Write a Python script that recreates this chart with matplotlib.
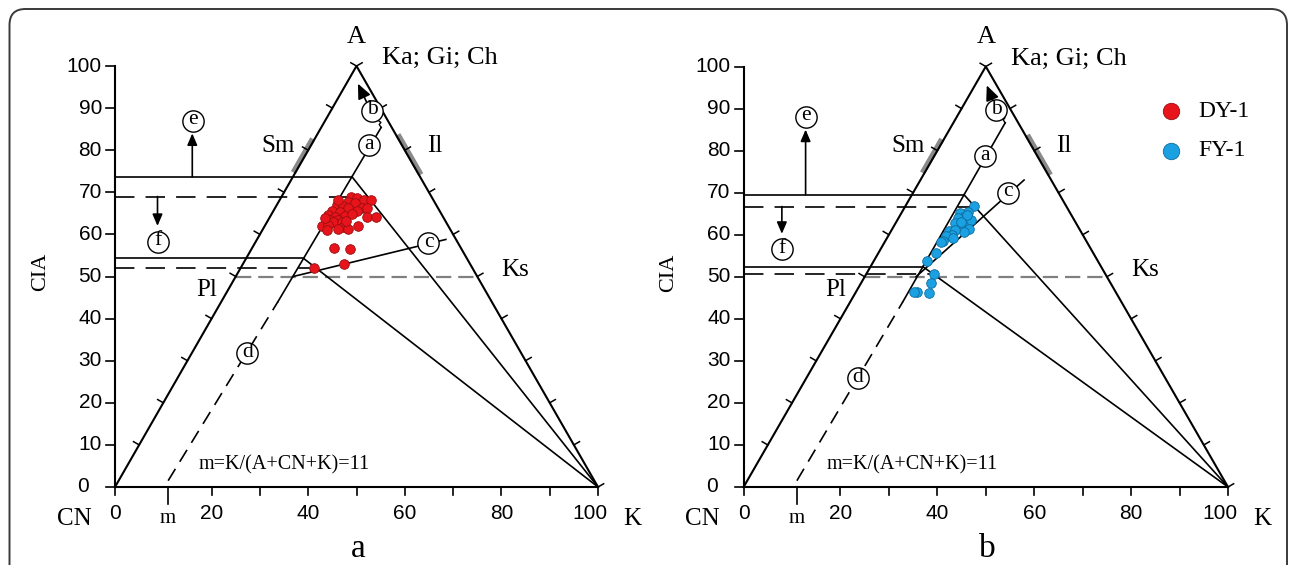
import matplotlib
matplotlib.use('Agg')
import matplotlib.pyplot as plt
import numpy as np
from matplotlib.patches import FancyBboxPatch
from matplotlib.transforms import IdentityTransform

plt.rcParams['lines.scale_dashes'] = False
SERIF = 'Liberation Serif'
SANS = 'Liberation Sans'

# ---------------- data (horizontal position along CN-K axis, CIA) ----------------
dy1_x = [48.9, 50.2, 51.6, 53.0, 48.2, 49.7, 45.9, 47.3, 51.1, 48.3, 52.1, 44.9, 46.6,
         50.0, 44.2, 45.5, 47.6, 52.2, 54.0, 44.5, 46.2, 45.2, 46.9, 42.8, 44.2, 47.3,
         50.4, 43.8, 46.2, 48.3, 45.4, 48.7, 41.3, 47.5, 46.2, 49.0, 43.5, 47.8]
dy1_cia = [69.0, 68.6, 68.2, 68.2, 67.8, 67.4, 67.1, 66.8, 66.3, 66.2, 66.2, 65.6, 65.4,
           65.6, 64.6, 64.2, 64.4, 64.2, 64.2, 63.4, 63.4, 62.9, 62.9, 62.1, 62.2, 61.8,
           62.1, 61.0, 61.4, 61.3, 56.8, 56.5, 52.1, 53.0, 68.2, 64.8, 63.8, 63.2]

fy1_x = [47.6, 46.4, 44.7, 45.6, 46.9, 44.3, 43.6, 45.1, 46.5, 45.4, 42.3, 43.6, 43.0,
         41.7, 43.3, 41.2, 40.8, 39.7, 37.8, 39.4, 38.7, 38.3, 35.9, 35.2, 46.1, 44.9]
fy1_cia = [66.9, 65.4, 65.1, 64.3, 63.5, 63.9, 62.7, 62.5, 61.3, 60.7, 60.9, 61.1, 60.0,
           59.6, 59.2, 58.5, 58.2, 55.6, 53.8, 50.6, 48.5, 46.2, 46.3, 46.3, 64.7, 63.0]

edge_ticks = [10, 20, 30, 40, 50, 60, 70, 80, 90, 100]
x_ticks = [0, 10, 20, 30, 40, 50, 60, 70, 80, 90, 100]
x_ticklabels = [0, 20, 40, 60, 80, 100]
y_ticks = [0, 10, 20, 30, 40, 50, 60, 70, 80, 90, 100]
m_value = 11
feldspar_cia = 50
sm_range = (74.5, 82.5)
il_range = (74.0, 83.5)

# diagram construction values for each panel
panel_a = dict(upper_solid=73.7, upper_dash=69.0, lower_solid=54.3, lower_dash=52.0,
               d_top=(55.1, 85.4), c_start=(36.9, 50.0), c_end=(68.5, 58.8),
               e_x=16.0, e_top=84.0, e_circle=(16.2, 87.0),
               f_x=8.8, f_bottom=62.0, f_circle=(8.8, 58.2),
               a_circle=(52.6, 81.2), b_circle=(53.3, 89.4),
               b_arrow=((52.1, 91.4), (50.3, 95.8)),
               c_circle=(64.9, 57.9), d_circle=(27.4, 31.8), name='a')
panel_b = dict(upper_solid=69.5, upper_dash=66.7, lower_solid=52.4, lower_dash=50.6,
               d_top=(54.0, 86.6), c_start=(35.6, 50.0), c_end=(57.9, 73.0),
               e_x=12.8, e_top=85.0, e_circle=(12.8, 88.0),
               f_x=7.9, f_bottom=60.2, f_circle=(7.9, 56.5),
               a_circle=(49.8, 78.6), b_circle=(52.2, 89.6),
               b_arrow=((51.5, 91.8), (50.2, 95.5)),
               c_circle=(54.5, 70.0), d_circle=(23.6, 25.9), name='b')

# ---------------- figure ----------------
W, H = 1295, 565
fig = plt.figure(figsize=(W / 100, H / 100), dpi=100)
fig.patch.set_facecolor('white')

border = FancyBboxPatch((9.5, -40), 1277.5, 596, boxstyle="round,pad=0,rounding_size=16",
                        transform=IdentityTransform(), facecolor='none',
                        edgecolor='#3a3a3a', lw=1.4)
fig.add_artist(border)


def make_ax(x0px, x100px, y0px, y100px, xlim, ylim):
    sx = (x100px - x0px) / 100.0
    sy = (y0px - y100px) / 100.0
    left = x0px + xlim[0] * sx
    right = x0px + xlim[1] * sx
    bottom = y0px - ylim[0] * sy
    top = y0px - ylim[1] * sy
    ax = fig.add_axes([left / W, 1 - bottom / H, (right - left) / W, (bottom - top) / H])
    ax.set_xlim(*xlim)
    ax.set_ylim(*ylim)
    ax.axis('off')
    return ax, sx, sy


def d_x(P, y):
    tx, ty = P['d_top']
    return m_value + (tx - m_value) * y / ty


def k_line_x(x_end, y_end, y):
    return x_end + (100 - x_end) * (y_end - y) / y_end


def circ(ax, pos, letter):
    ax.scatter([pos[0]], [pos[1]], s=235, facecolor='white', edgecolor='k',
               linewidths=1.0, zorder=8)
    ax.text(pos[0], pos[1] + 0.25, letter, ha='center', va='center', fontsize=15.5,
            family=SERIF, zorder=9)


def draw_panel(ax, sx, sy, P, pts_x, pts_y, face, edge, legend=False):
    k = 'k'
    lw_main = 1.5
    lw_in = 1.2
    # gray mineral bars
    Ldir = np.array([50 * sx, 100 * sy]); Ldir /= np.hypot(*Ldir)
    Rdir = np.array([-50 * sx, 100 * sy]); Rdir /= np.hypot(*Rdir)
    nL = np.array([-Ldir[1], Ldir[0]])
    nR = np.array([Rdir[1], -Rdir[0]])
    off = 1.8
    a0, a1 = sm_range
    ax.plot([a0 / 2 + nL[0] * off / sx, a1 / 2 + nL[0] * off / sx],
            [a0 + nL[1] * off / sy, a1 + nL[1] * off / sy],
            color='#8a8a8a', lw=4.0, solid_capstyle='butt', zorder=2)
    a0, a1 = il_range
    ax.plot([100 - a0 / 2 + nR[0] * off / sx, 100 - a1 / 2 + nR[0] * off / sx],
            [a0 + nR[1] * off / sy, a1 + nR[1] * off / sy],
            color='#8a8a8a', lw=4.0, solid_capstyle='butt', zorder=2)

    # triangle and axes
    ax.plot([0, 50, 100], [0, 100, 0], color=k, lw=lw_main, zorder=4)
    ax.plot([0, 100], [0, 0], color=k, lw=lw_main, zorder=4)
    ax.plot([0, 0], [0, 100], color=k, lw=lw_main, zorder=4)

    # edge ticks (perpendicular, outward)
    tl = 6.5
    for A in edge_ticks:
        p = np.array([A / 2, A])
        ax.plot([p[0], p[0] + nL[0] * tl / sx], [p[1], p[1] + nL[1] * tl / sy],
                color=k, lw=1.1, zorder=4)
        q = np.array([100 - A / 2, A])
        ax.plot([q[0], q[0] + nR[0] * tl / sx], [q[1], q[1] + nR[1] * tl / sy],
                color=k, lw=1.1, zorder=4)
    ax.plot([100, 100 + nR[0] * tl / sx], [0, nR[1] * tl / sy], color=k, lw=1.1, zorder=4)

    # x ticks
    for t in x_ticks:
        if t == 10:
            continue
        ax.plot([t, t], [0, -8 / sy], color=k, lw=1.2, zorder=4)
    ax.plot([m_value, m_value], [0, -17 / sy], color=k, lw=1.2, zorder=4)
    for t in x_ticklabels:
        xx = t - 1.6 if t == 100 else t
        ax.text(xx, -6.3, str(t), ha='center', va='center', fontsize=15, family=SANS)
    # y ticks
    for t in y_ticks:
        ax.plot([0, -9 / sx], [t, t], color=k, lw=1.2, zorder=4)
        xx = -5.4 if t == 0 else -2.7
        ax.text(xx, t, str(t), ha='right', va='center', fontsize=15, family=SANS)

    # feldspar join (gray dashed)
    ax.plot([feldspar_cia / 2, 100 - feldspar_cia / 2], [feldspar_cia, feldspar_cia],
            color='#808080', lw=1.6, linestyle=(0, (11, 5)), zorder=3)

    # line d (dashed below, solid above)
    ysplit = 44.0
    ax.plot([m_value, d_x(P, ysplit)], [1.5, ysplit], color=k, lw=lw_in,
            linestyle=(0, (10, 6)), zorder=3)
    tx, ty = P['d_top']
    ax.plot([d_x(P, ysplit), tx], [ysplit, ty], color=k, lw=lw_in, zorder=3)
    # small hook to circle b
    bx, by = P['b_circle']
    ax.plot([tx, tx - 0.4, tx - 0.05, bx + 0.6], [ty, ty + 0.7, ty + 1.2, by - 1.8],
            color=k, lw=1.0, zorder=3)

    # horizontal levels
    for lev in (P['upper_solid'], P['lower_solid']):
        xe = d_x(P, lev)
        ax.plot([0, xe], [lev, lev], color=k, lw=lw_in, zorder=3)
        ax.plot([xe, 100], [lev, 0], color=k, lw=lw_in, zorder=3)
    for lev, ref in ((P['upper_dash'], P['upper_solid']), (P['lower_dash'], P['lower_solid'])):
        xe_ref = d_x(P, ref)
        xe = k_line_x(xe_ref, ref, lev)
        ax.plot([0, xe], [lev, lev], color=k, lw=lw_in, linestyle=(0, (14, 8)), zorder=3)

    # line c
    ax.plot([P['c_start'][0], P['c_end'][0]], [P['c_start'][1], P['c_end'][1]],
            color=k, lw=lw_in, zorder=3)

    # arrows e, f, b
    ap = dict(arrowstyle='-|>,head_length=0.7,head_width=0.3', color=k, lw=1.2,
              shrinkA=0, shrinkB=0)
    ax.annotate('', xy=(P['e_x'], P['e_top']), xytext=(P['e_x'], P['upper_solid']),
                arrowprops=ap, zorder=5)
    ax.annotate('', xy=(P['f_x'], P['f_bottom']), xytext=(P['f_x'], P['upper_dash']),
                arrowprops=ap, zorder=5)
    ap2 = dict(arrowstyle='-|>,head_length=0.9,head_width=0.4', color=k, lw=1.2,
               shrinkA=0, shrinkB=0)
    ax.annotate('', xy=P['b_arrow'][1], xytext=P['b_arrow'][0], arrowprops=ap2, zorder=5)

    # circled letters
    circ(ax, P['a_circle'], 'a')
    circ(ax, P['b_circle'], 'b')
    circ(ax, P['c_circle'], 'c')
    circ(ax, P['d_circle'], 'd')
    circ(ax, P['e_circle'], 'e')
    circ(ax, P['f_circle'], 'f')

    # data points
    ax.scatter(pts_x, pts_y, s=48, facecolor=face, edgecolor=edge, linewidths=0.6, zorder=10)

    # labels
    ax.text(50, 107.0, 'A', ha='center', va='center', fontsize=19, family=SERIF)
    ax.text(55.2, 101.8, 'Ka; Gi; Ch', ha='left', va='center', fontsize=19, family=SERIF)
    ax.text(37.3, 81, 'Sm', ha='right', va='center', fontsize=18, family=SERIF)
    ax.text(64.6, 81, 'Il', ha='left', va='center', fontsize=18, family=SERIF)
    ax.text(19.0, 46.8, 'Pl', ha='center', va='center', fontsize=18, family=SERIF)
    ax.text(82.8, 51.6, 'Ks', ha='center', va='center', fontsize=18, family=SERIF)
    ax.text(17.2, 5.3, 'm=K/(A+CN+K)=11', ha='left', va='center', fontsize=14.5, family=SERIF)
    ax.text(-8.5, -7.6, 'CN', ha='center', va='center', fontsize=18, family=SERIF)
    ax.text(107.0, -7.6, 'K', ha='center', va='center', fontsize=18, family=SERIF)
    ax.text(m_value, -7.6, 'm', ha='center', va='center', fontsize=15, family=SERIF)
    ax.text(-15.5, 51, 'CIA', ha='center', va='center', fontsize=16, family=SERIF,
            rotation=90)
    ax.text(50.3, -18.4, P['name'], ha='center', va='bottom', fontsize=24, family=SERIF)

    if legend:
        ax.scatter([88.3], [89.3], s=140, facecolor='#e8141b', edgecolor='#9a0d10',
                   linewidths=0.6, zorder=10)
        ax.scatter([88.3], [80.0], s=140, facecolor='#1ba1e2', edgecolor='#0b6c9e',
                   linewidths=0.6, zorder=10)
        ax.text(93.8, 89.3, 'DY-1', ha='left', va='center', fontsize=17, family=SERIF)
        ax.text(93.8, 80.0, 'FY-1', ha='left', va='center', fontsize=17, family=SERIF)


ax1, sx1, sy1 = make_ax(115, 598, 487, 66, (-22, 110), (-18.5, 110.5))
draw_panel(ax1, sx1, sy1, panel_a, dy1_x, dy1_cia, '#e8141b', '#9a0d10')
ax2, sx2, sy2 = make_ax(743.6, 1228, 487, 66.5, (-20, 112), (-18.5, 110.5))
draw_panel(ax2, sx2, sy2, panel_b, fy1_x, fy1_cia, '#1ba1e2', '#0b6c9e', legend=True)

fig.savefig('out.png', dpi=100, facecolor='white')
